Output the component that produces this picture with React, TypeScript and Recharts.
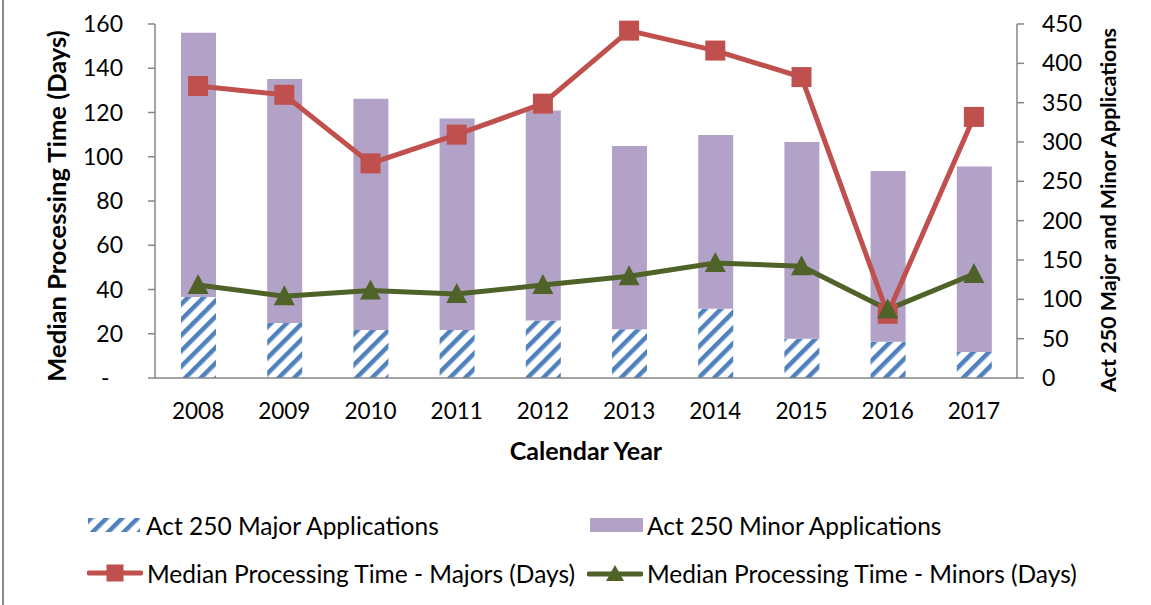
import React from 'react';
import { ComposedChart, Bar, Line, XAxis, YAxis, Legend } from 'recharts';

const years = ['2008', '2009', '2010', '2011', '2012', '2013', '2014', '2015', '2016', '2017'];
const majorApps = [103, 70, 61, 61, 73, 62, 88, 50, 46, 33];
const minorApps = [336, 310, 294, 269, 267, 233, 221, 250, 217, 236];
const majorDays = [132, 128, 97, 110, 124, 157, 148, 136, 29, 118];
const minorDays = [42, 37, 39.5, 38, 42, 46, 52, 50.5, 31, 47];

const leftTicks = [0, 20, 40, 60, 80, 100, 120, 140, 160];
const rightTicks = [0, 50, 100, 150, 200, 250, 300, 350, 400, 450];
// category boundaries, used for the in-between tick marks like Excel draws them
const bandTicks = years.map((_, i) => i).concat(years.length);

const data = years.map((year, i) => ({
  year,
  major: majorApps[i],
  minor: minorApps[i],
  majorDays: majorDays[i],
  minorDays: minorDays[i],
}));

const AXIS = '#868686';
const BLUE = '#4F81BD';
const PURPLE = '#B3A2C7';
const RED = '#C0504D';
const GREEN = '#4F6228';

const Square = (props: any) => {
  const { cx, cy } = props;
  if (cx == null || cy == null) return null;
  return <rect x={cx - 10} y={cy - 10} width={20} height={20} fill={RED} />;
};

const Triangle = (props: any) => {
  const { cx, cy } = props;
  if (cx == null || cy == null) return null;
  return <polygon points={`${cx},${cy - 11} ${cx - 10.5},${cy + 9} ${cx + 10.5},${cy + 9}`} fill={GREEN} />;
};

const Hatch = ({ id }: { id: string }) => (
  <pattern id={id} patternUnits="userSpaceOnUse" width={11} height={11} patternTransform="rotate(45)">
    <rect width={11} height={11} fill="#fff" />
    <rect width={4.5} height={11} fill={BLUE} />
  </pattern>
);

// rotated axis title, placed from the axis viewBox
const vTitle = (text: string, dxFromLeft: number, shiftY: number, size: number) => (props: any) => {
  const vb = props.viewBox || {};
  const x = vb.x + dxFromLeft;
  const y = vb.y + vb.height / 2 + shiftY;
  return (
    <text
      x={x}
      y={y}
      transform={`rotate(-90, ${x}, ${y})`}
      textAnchor="middle"
      dominantBaseline="central"
      fill="#000"
      fontSize={size}
      fontWeight={700}
    >
      {text}
    </text>
  );
};

const textStyle: React.CSSProperties = { fontSize: 24.5, color: '#000', whiteSpace: 'nowrap' };

const LegendBox = () => {
  const item = (left: number, top: number, icon: React.ReactNode, gap: number, label: string) => (
    <div style={{ position: 'absolute', left, top: top - 15, height: 30, display: 'flex', alignItems: 'center' }}>
      {icon}
      <span style={{ ...textStyle, marginLeft: gap }}>{label}</span>
    </div>
  );
  return (
    <div style={{ position: 'relative', width: 1151, height: 120 }}>
      {item(
        88,
        40,
        <svg width={52} height={14}>
          <defs>
            <Hatch id="hatchLegend" />
          </defs>
          <rect width={52} height={14} fill="url(#hatchLegend)" />
        </svg>,
        6,
        'Act 250 Major Applications'
      )}
      {item(590, 40, <div style={{ width: 53, height: 14, background: PURPLE }} />, 4, 'Act 250 Minor Applications')}
      {item(
        87,
        88,
        <svg width={56} height={20}>
          <line x1={2} y1={10} x2={54} y2={10} stroke={RED} strokeWidth={5} strokeLinecap="round" />
          <rect x={19.5} y={1.5} width={17} height={17} fill={RED} />
        </svg>,
        4,
        'Median Processing Time - Majors (Days)'
      )}
      {item(
        587,
        88,
        <svg width={56} height={20}>
          <line x1={2} y1={11} x2={54} y2={11} stroke={GREEN} strokeWidth={5} strokeLinecap="round" />
          <polygon points="28,2 19,18 37,18" fill={GREEN} />
        </svg>,
        4,
        'Median Processing Time - Minors (Days)'
      )}
    </div>
  );
};

export default function App() {
  return (
    <div style={{ position: 'absolute', left: 0, top: 0, width: 1151, height: 605, background: '#fff', fontFamily: 'Lato' }}>
      <div style={{ position: 'absolute', left: 2, top: 0, width: 2, height: 605, background: '#8c8c8c' }} />
      <ComposedChart width={1151} height={605} data={data} margin={{ top: 24, right: 0, bottom: 0, left: 0 }}>
        <defs>
          <Hatch id="hatchBar" />
        </defs>
        <XAxis
          xAxisId="bands"
          type="number"
          domain={[0, years.length]}
          ticks={bandTicks}
          allowDataOverflow
          height={0}
          tick={false}
          axisLine={false}
          tickSize={7}
          tickLine={{ stroke: AXIS, strokeWidth: 1.5 }}
        />
        <XAxis
          dataKey="year"
          height={107}
          tickLine={false}
          tickSize={7}
          tickMargin={18}
          axisLine={{ stroke: AXIS, strokeWidth: 1.5 }}
          tick={{ fill: '#000', fontSize: 22.5 }}
          label={{ value: 'Calendar Year', position: 'insideBottom', offset: 25, fill: '#000', fontSize: 25, fontWeight: 700 }}
        />
        <YAxis
          yAxisId="left"
          width={155}
          domain={[0, 160]}
          ticks={leftTicks}
          interval={0}
          tickSize={7}
          tickMargin={25}
          tickFormatter={(v: number) => (v === 0 ? '-\u2007' : String(v))}
          axisLine={{ stroke: AXIS, strokeWidth: 1.5 }}
          tickLine={{ stroke: AXIS, strokeWidth: 1.5 }}
          tick={{ fill: '#000', fontSize: 23 }}
          label={{ content: vTitle('Median Processing Time (Days)', 56, 5, 25.5) }}
        />
        <YAxis
          yAxisId="right"
          orientation="right"
          width={134}
          domain={[0, 450]}
          ticks={rightTicks}
          interval={0}
          tickSize={7}
          tickMargin={18}
          axisLine={{ stroke: AXIS, strokeWidth: 1.5 }}
          tickLine={{ stroke: AXIS, strokeWidth: 1.5 }}
          tick={{ fill: '#000', fontSize: 23 }}
          label={{ content: vTitle('Act 250 Major and Minor Applications', 91, 9, 21.5) }}
        />
        <Bar yAxisId="right" dataKey="major" stackId="apps" barSize={35} fill="url(#hatchBar)" name="Act 250 Major Applications" isAnimationActive={false} />
        <Bar yAxisId="right" dataKey="minor" stackId="apps" barSize={35} fill={PURPLE} name="Act 250 Minor Applications" isAnimationActive={false} />
        <Line
          yAxisId="left"
          type="linear"
          dataKey="majorDays"
          stroke={RED}
          strokeWidth={5}
          dot={(p: any) => <Square key={`sq-${p.index}`} {...p} />}
          activeDot={false}
          name="Median Processing Time - Majors (Days)"
          isAnimationActive={false}
        />
        <Line
          yAxisId="left"
          type="linear"
          dataKey="minorDays"
          stroke={GREEN}
          strokeWidth={5}
          dot={(p: any) => <Triangle key={`tr-${p.index}`} {...p} />}
          activeDot={false}
          name="Median Processing Time - Minors (Days)"
          isAnimationActive={false}
        />
        <Legend verticalAlign="bottom" content={() => <LegendBox />} />
      </ComposedChart>
    </div>
  );
}
